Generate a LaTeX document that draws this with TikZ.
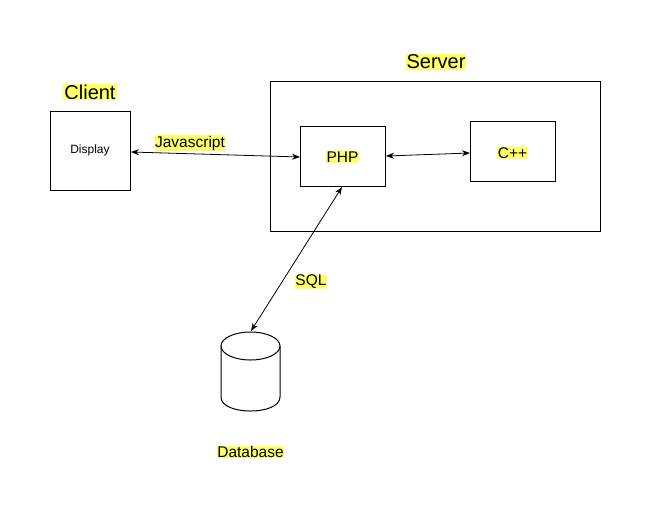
\documentclass[tikz,border=0pt]{standalone}
\usepackage{fontspec}
\setmainfont{Liberation Sans}
\usetikzlibrary{arrows.meta}
\definecolor{hl}{HTML}{FFFF66}
\tikzset{
  box/.style={draw,line width=1pt,inner sep=0pt},
  lbl/.style={fill=hl,inner sep=0.5pt,font=\fontsize{15.5}{17}\selectfont},
  title/.style={fill=hl,inner sep=1pt,font=\fontsize{20}{22}\selectfont},
  conn/.style={line width=0.8pt,{Stealth[length=8pt,width=6pt]}-{Stealth[length=8pt,width=6pt]}},
  cyl/.style={line width=1pt}
}
\begin{document}
\begin{tikzpicture}[x=1pt,y=-1pt]
\useasboundingbox (0,0) rectangle (651,512);
\node[title] (client) at (90,92) {Client};
\node[box,minimum width=80,minimum height=79] (display) at (90,150.5) {\fontsize{12}{14}\selectfont Display};
\node[title] (server) at (436,62) {Server};
\node[box,minimum width=330,minimum height=150] (srv) at (435,156) {};
\node[box,minimum width=85,minimum height=60] (php) at (342.5,156) {};
\node[lbl] (phpl) at (342.5,157) {PHP};
\node[box,minimum width=85,minimum height=60] (cpp) at (512.5,151) {};
\node[lbl] (cppl) at (512.5,153) {C++};
\coordinate (jsA) at (131,152);
\coordinate (jsB) at (300,157);
\draw[conn] (jsA) -- (jsB);
\node[lbl] (js) at (190,143) {Javascript};
\coordinate (pcA) at (386,156);
\coordinate (pcB) at (470,153);
\draw[conn] (pcA) -- (pcB);
% database cylinder
\node[minimum width=60,minimum height=80,inner sep=0pt] (db) at (250.5,371) {};
\draw[cyl] (250.5,346) ellipse [x radius=29.5,y radius=14];
\draw[cyl] (221,346) -- (221,397) .. controls (221,415.7) and (280,415.7) .. (280,397) -- (280,346);
\coordinate (sqlA) at (342,187);
\coordinate (sqlB) at (251,331);
\draw[conn] (sqlA) -- (sqlB);
\node[lbl] (sql) at (311,282) {SQL};
\node[lbl] (dbl) at (250.5,452) {Database};
\end{tikzpicture}
\end{document}
